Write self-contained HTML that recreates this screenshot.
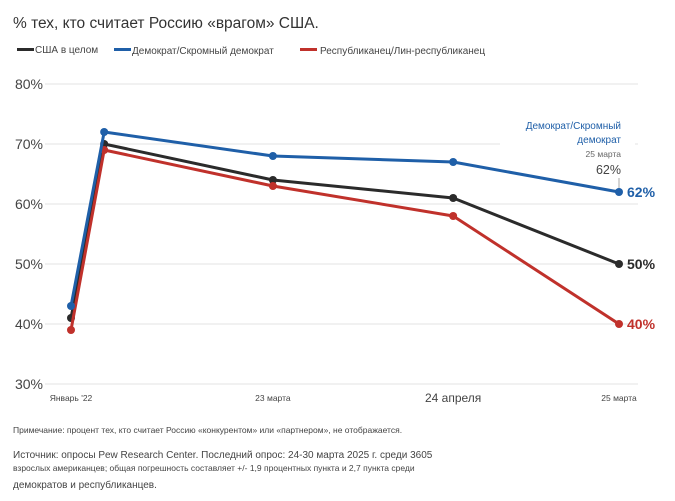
<!DOCTYPE html>
<html><head><meta charset="utf-8"><style>
body{margin:0;background:#fff;font-family:"Liberation Sans",sans-serif;}
svg text{font-family:"Liberation Sans",sans-serif;}
</style></head><body>
<svg width="675" height="496" viewBox="0 0 675 496">
<text x="13" y="28" font-size="15.5" fill="#333">% тех, кто считает Россию «врагом» США.</text>
<g font-size="10" fill="#444">
<g><rect x="17" y="48" width="17" height="3" fill="#2b2b2b"/><text x="35" y="53">США в целом</text></g>
<g><rect x="114" y="48" width="17" height="3" fill="#1f5fa8"/><text x="132" y="54">Демократ/Скромный демократ</text></g>
<g><rect x="300" y="48" width="17" height="3" fill="#c0312b"/><text x="320" y="54">Республиканец/Лин-республиканец</text></g>
</g>
<g id="grid"></g>
<g id="yticks" font-size="14" fill="#444" text-anchor="end"></g>
<g id="xticks" fill="#444" text-anchor="middle"></g>
<rect x="500" y="112" width="135" height="65" fill="#fff"/>
<g text-anchor="end">
<text x="621" y="129" font-size="10" fill="#1f5fa8">Демократ/Скромный</text>
<text x="621" y="143" font-size="10" fill="#1f5fa8">демократ</text>
<text x="621" y="157" font-size="8.5" fill="#666">25 марта</text>
<text x="621" y="174" font-size="12.5" fill="#444">62%</text>
<line x1="619" y1="178" x2="619" y2="188" stroke="#aaa"/>
</g>
<g id="series"></g>
<g fill="#444">
<text x="13" y="433" font-size="8.5">Примечание: процент тех, кто считает Россию «конкурентом» или «партнером», не отображается.</text>
<text x="13" y="458" font-size="10">Источник: опросы Pew Research Center. Последний опрос: 24-30 марта 2025 г. среди 3605</text>
<text x="13" y="471" font-size="8.5">взрослых американцев; общая погрешность составляет +/- 1,9 процентных пункта и 2,7 пункта среди</text>
<text x="13" y="488" font-size="10">демократов и республиканцев.</text>
</g>
</svg>
<script>
const monthsSinceJan22 = [0, 2.3, 14, 26.5, 38];
const usTotal = [41, 70, 64, 61, 50];
const democrats = [43, 72, 68, 67, 62];
const republicans = [39, 69, 63, 58, 40];
const yTicks = [30, 40, 50, 60, 70, 80];
const xTickMonths = [0, 14, 26.5, 38];
const xTickLabels = ["Январь '22", "23 марта", "24 апреля", "25 марта"];
const NS = "http://www.w3.org/2000/svg";
function x(m){return 71 + (m/38)*548;}
function y(v){return 384 - (v-30)*6;}
function mk(tag, attrs, parent){const e=document.createElementNS(NS,tag);for(const k in attrs)e.setAttribute(k,attrs[k]);parent.appendChild(e);return e;}
const grid=document.getElementById('grid'), yt=document.getElementById('yticks'), xt=document.getElementById('xticks'), ser=document.getElementById('series');
yTicks.forEach(v=>{
  const l=mk('line',{x1:45,x2:638,y1:y(v),y2:y(v),stroke:'#e3e3e3','stroke-width':1},grid);
  
  
  const t=mk('text',{x:43,y:y(v)+5},yt);t.textContent=v+'%';
  
  
});
xTickMonths.forEach((m,i)=>{
  const big=i===2;
  const t=mk('text',{x:x(m),y:big?402:401,'font-size':big?12:8.5},xt);t.textContent=xTickLabels[i];
  
  
});
const defs=[[usTotal,'#2b2b2b','us-total'],[republicans,'#c0312b','republicans'],[democrats,'#1f5fa8','democrats']];
defs.forEach(([vals,col,name])=>{
  const g=mk('g',{},ser);
  
  
  const pts=vals.map((v,i)=>x(monthsSinceJan22[i])+','+y(v)).join(' ');
  const pl=mk('polyline',{points:pts,fill:'none',stroke:col,'stroke-width':3,'stroke-linejoin':'round'},g);
  
  
  vals.forEach((v,i)=>{
    const c=mk('circle',{cx:x(monthsSinceJan22[i]),cy:y(v),r:4,fill:col},g);
    
    
  });
  const last=vals[vals.length-1];
  const t=mk('text',{x:627,y:y(last)+5,'font-size':14,'font-weight':'bold',fill:col},g);
  t.textContent=last+'%';
  
  
});
</script>
</body></html>
